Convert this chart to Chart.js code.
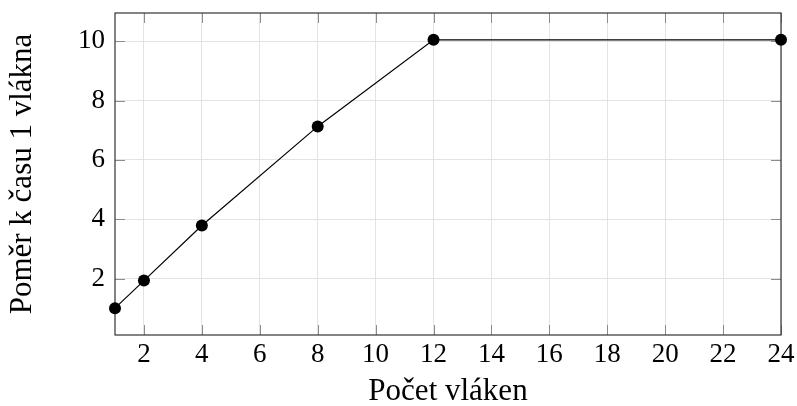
<!DOCTYPE html>
<html><head><meta charset="utf-8">
<script src="https://cdn.jsdelivr.net/npm/chart.js@4"></script>
<style>html,body{margin:0;padding:0;background:#fff}#wrap{width:797px;height:406px}</style>
</head><body><div id="wrap"><canvas id="c" width="797" height="406"></canvas></div>
<script>
const threads = [1, 2, 4, 8, 12, 24];
const ratio = [1.00, 1.93, 3.79, 7.13, 10.05, 10.05];
const xTicks = [2, 4, 6, 8, 10, 12, 14, 16, 18, 20, 22, 24];
const yTicks = [2, 4, 6, 8, 10];
const xTitle = 'Počet vláken';
const yTitle = 'Poměr k času 1 vlákna';

const FAMILY = "'Liberation Serif', 'DejaVu Serif', serif";
const TICK_FONT = { family: FAMILY, size: 27 };
const TITLE_FONT = { family: FAMILY, size: 31 };

const framePlugin = {
  id: 'frame',
  beforeDatasetsDraw(chart) {
    const { ctx, chartArea: a, scales: { x, y } } = chart;
    const L = 10;
    ctx.save();
    ctx.strokeStyle = '#8c8c8c';
    ctx.lineWidth = 1;
    ctx.beginPath();
    for (const v of xTicks) {
      const px = Math.round(x.getPixelForValue(v)) + 0.5;
      ctx.moveTo(px, a.bottom); ctx.lineTo(px, a.bottom - L);
      ctx.moveTo(px, a.top); ctx.lineTo(px, a.top + L);
    }
    for (const v of yTicks) {
      const py = Math.round(y.getPixelForValue(v)) + 0.5;
      ctx.moveTo(a.left, py); ctx.lineTo(a.left + L, py);
      ctx.moveTo(a.right, py); ctx.lineTo(a.right - L, py);
    }
    ctx.stroke();
    ctx.strokeStyle = '#333';
    ctx.lineWidth = 1.2;
    ctx.strokeRect(a.left, a.top, a.right - a.left, a.bottom - a.top);
    ctx.restore();
  }
};

new Chart(document.getElementById('c'), {
  type: 'line',
  data: {
    datasets: [{
      data: threads.map((t, i) => ({ x: t, y: ratio[i] })),
      borderColor: '#000',
      borderWidth: 1.2,
      backgroundColor: '#000',
      pointBackgroundColor: '#000',
      pointBorderWidth: 0,
      pointRadius: 6,
      tension: 0,
      clip: false
    }]
  },
  options: {
    responsive: false,
    devicePixelRatio: 1,
    animation: false,
    layout: { padding: { left: 0, top: 13, right: 16, bottom: 0 } },
    plugins: { legend: { display: false }, tooltip: { enabled: false } },
    scales: {
      x: {
        type: 'linear',
        min: 1, max: 24,
        afterBuildTicks: s => { s.ticks = xTicks.map(v => ({ value: v })); },
        afterFit: s => { s.height = 71; s.paddingLeft = 0; s.paddingRight = 0; },
        grid: { color: '#e3e3e3', drawTicks: false, lineWidth: 1 },
        border: { display: false },
        ticks: { padding: 4, color: '#000', font: TICK_FONT, maxRotation: 0, autoSkip: false, callback: v => String(v) },
        title: { display: true, text: xTitle, color: '#000', font: TITLE_FONT, padding: { top: 0, bottom: -4 } }
      },
      y: {
        type: 'linear',
        min: 0.095, max: 10.955,
        afterBuildTicks: s => { s.ticks = yTicks.map(v => ({ value: v })); },
        afterFit: s => { s.width = 115; s.paddingTop = 0; s.paddingBottom = 0; },
        grid: { color: '#e3e3e3', drawTicks: false, lineWidth: 1 },
        border: { display: false },
        ticks: { padding: 10, color: '#000', font: TICK_FONT, autoSkip: false, callback: v => String(v) },
        title: { display: true, text: yTitle, color: '#000', font: TITLE_FONT, padding: { top: 4, bottom: 0 } }
      }
    }
  },
  plugins: [framePlugin]
});
</script></body></html>
